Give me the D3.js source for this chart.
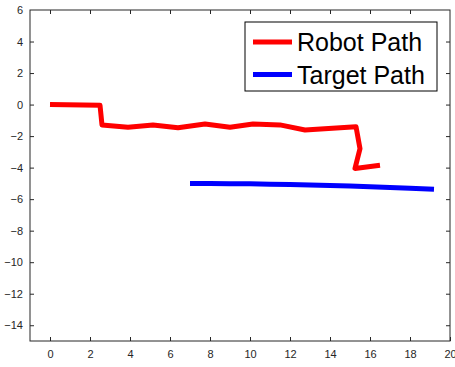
<!DOCTYPE html>
<html>
<head>
<meta charset="utf-8">
<script src="https://cdn.jsdelivr.net/npm/d3@7"></script>
<style>
  body { margin: 0; background: #fff; }
  svg { font-family: "Liberation Sans", Arial, sans-serif; }
</style>
</head>
<body>
<div id="chart"></div>
<script>
// data
var robotX = [0, 2.5, 2.6, 3.9, 5.15, 6.4, 7.75, 9.0, 10.15, 11.5, 12.75, 15.3, 15.5, 15.25, 16.5];
var robotY = [0, -0.05, -1.29, -1.44, -1.29, -1.47, -1.23, -1.44, -1.23, -1.29, -1.61, -1.4, -2.8, -4.05, -3.85];
var targetX = [7, 8, 9, 10, 11, 12, 13, 14, 15, 16, 17, 18, 19.2];
var targetY = [-5, -5.01, -5.02, -5.03, -5.05, -5.07, -5.1, -5.13, -5.17, -5.21, -5.26, -5.31, -5.38];
var xTicks = [0, 2, 4, 6, 8, 10, 12, 14, 16, 18, 20];
var yTicks = [6, 4, 2, 0, -2, -4, -6, -8, -10, -12, -14];
var legendNames = ["Robot Path", "Target Path"];
var colors = ["#ff0000", "#0000ff"];

var W = 455, H = 367;
var margin = {top: 10, right: 5, bottom: 26, left: 30};
var width = W - margin.left - margin.right,
    height = H - margin.top - margin.bottom;

var svg = d3.select("#chart").append("svg")
  .attr("width", W).attr("height", H);

var g = svg.append("g")
  .attr("transform", "translate(" + margin.left + "," + margin.top + ")");

var x = d3.scaleLinear().domain([-1, 20]).range([0, width]);
var y = d3.scaleLinear().domain([-15, 6]).range([height, 0]);

var axisColor = "#262626";

function styleAxis(sel, showText) {
  sel.select(".domain").remove();
  sel.selectAll("line").attr("stroke", axisColor);
  sel.selectAll("text")
    .attr("fill", axisColor)
    .style("font-size", "11px")
    .style("display", showText ? null : "none");
}

// bottom and left with labels, top and right mirrored
g.append("g").attr("transform", "translate(0," + height + ")")
  .call(d3.axisBottom(x).tickValues(xTicks).tickSizeInner(-4).tickSizeOuter(0).tickPadding(9))
  .call(styleAxis, true);
g.append("g")
  .call(d3.axisTop(x).tickValues(xTicks.filter(d => d < 20)).tickSizeInner(-4).tickSizeOuter(0))
  .call(styleAxis, false);
g.append("g")
  .call(d3.axisLeft(y).tickValues(yTicks.filter(d => d < 6)).tickSizeInner(-4).tickSizeOuter(0).tickPadding(7))
  .call(styleAxis, true);
// 6 label at the top corner
g.append("text").attr("x", -7).attr("y", y(6)).attr("dy", "0.32em")
  .attr("text-anchor", "end").attr("fill", axisColor).style("font-size", "11px").text("6");
g.append("g").attr("transform", "translate(" + width + ",0)")
  .call(d3.axisRight(y).tickValues(yTicks.filter(d => d < 6)).tickSizeInner(-4).tickSizeOuter(0))
  .call(styleAxis, false);

g.append("rect")
  .attr("width", width).attr("height", height)
  .attr("fill", "none").attr("stroke", axisColor).attr("stroke-width", 1);

var line = d3.line().x(d => x(d[0])).y(d => y(d[1]));

var robot = robotX.map((v, i) => [v, robotY[i]]);
var target = targetX.map((v, i) => [v, targetY[i]]);

g.append("path").datum(robot)
  .attr("d", line).attr("fill", "none")
  .attr("stroke", colors[0]).attr("stroke-width", 5).attr("stroke-linejoin", "round");

g.append("path").datum(target)
  .attr("d", line).attr("fill", "none")
  .attr("stroke", colors[1]).attr("stroke-width", 5);

// legend
var leg = svg.append("g").attr("transform", "translate(245,22)");
leg.append("rect").attr("width", 192).attr("height", 69)
  .attr("fill", "#fff").attr("stroke", "#000").attr("stroke-width", 1);
legendNames.forEach(function(name, i) {
  var yy = 20 + i * 32.5;
  leg.append("line").attr("x1", 8).attr("x2", 47).attr("y1", yy).attr("y2", yy)
    .attr("stroke", colors[i]).attr("stroke-width", 5);
  leg.append("text").attr("x", 52).attr("y", yy + 9)
    .style("font-size", "25px").attr("fill", "#000").text(name);
});
</script>
</body>
</html>
